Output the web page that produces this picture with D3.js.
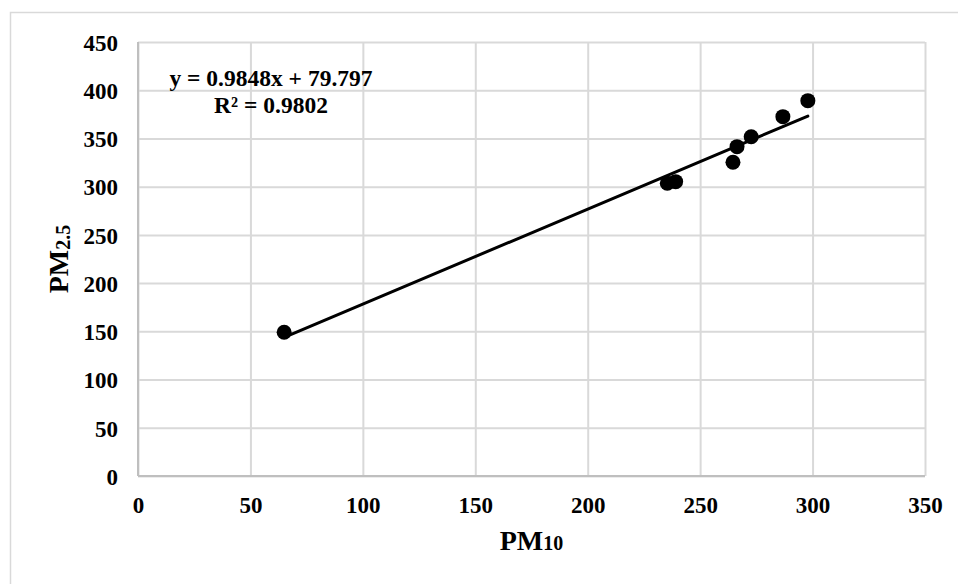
<!DOCTYPE html>
<html>
<head>
<meta charset="utf-8">
<script src="https://cdn.jsdelivr.net/npm/d3@7"></script>
<style>
  html, body { margin: 0; padding: 0; background: #fff; }
  svg { display: block; }
  text { font-family: "Liberation Serif", "Times New Roman", serif; font-weight: bold; fill: #000; }
</style>
</head>
<body>
<svg id="chart" width="958" height="584"></svg>
<script>
// PM10 vs PM2.5 observations
const pm10 = [65.0, 235.4, 239.1, 264.6, 266.4, 272.7, 286.8, 297.9];
const pm25 = [149.0, 303.5, 305.2, 325.3, 341.5, 351.8, 372.6, 389.2];

// Linear trend reported on the chart
const slope = 0.9848;
const intercept = 79.797;
const rSquared = 0.9802;

// Axis ticks
const xTicks = [0, 50, 100, 150, 200, 250, 300, 350];
const yTicks = [0, 50, 100, 150, 200, 250, 300, 350, 400, 450];

const svg = d3.select("#chart");
const W = 958, H = 584;
const plot = { left: 138, top: 42, right: 925, bottom: 476 };

// Outer chart frame
svg.append("rect")
  .attr("x", 10.5).attr("y", 12.5)
  .attr("width", W + 20).attr("height", H + 20)
  .attr("fill", "#fff").attr("stroke", "#d9d9d9").attr("stroke-width", 1.5);

const x = d3.scaleLinear().domain([0, 350]).range([plot.left, plot.right]);
const y = d3.scaleLinear().domain([0, 450]).range([plot.bottom, plot.top]);

// Gridlines
svg.append("g")
  .attr("transform", `translate(0,${plot.bottom})`)
  .call(d3.axisBottom(x).tickValues(xTicks).tickSize(-(plot.bottom - plot.top)).tickFormat(""))
  .call(g => g.select(".domain").remove())
  .call(g => g.selectAll("line").attr("stroke", "#d9d9d9").attr("stroke-width", 2));

svg.append("g")
  .attr("transform", `translate(${plot.left},0)`)
  .call(d3.axisLeft(y).tickValues(yTicks).tickSize(-(plot.right - plot.left)).tickFormat(""))
  .call(g => g.select(".domain").remove())
  .call(g => g.selectAll("line").attr("stroke", "#d9d9d9").attr("stroke-width", 2));

// Axis lines
svg.append("line")
  .attr("x1", plot.left).attr("x2", plot.right)
  .attr("y1", plot.bottom).attr("y2", plot.bottom)
  .attr("stroke", "#bfbfbf").attr("stroke-width", 2);
svg.append("line")
  .attr("x1", plot.left).attr("x2", plot.left)
  .attr("y1", plot.top).attr("y2", plot.bottom)
  .attr("stroke", "#bfbfbf").attr("stroke-width", 2);

// Tick labels
const xAxis = svg.append("g")
  .attr("transform", `translate(0,${plot.bottom})`)
  .call(d3.axisBottom(x).tickValues(xTicks).tickSize(0).tickPadding(37).tickFormat(d3.format("d")));
xAxis.select(".domain").remove();
xAxis.selectAll("text").attr("font-size", 23).attr("font-family", "Liberation Serif").attr("font-weight", "bold").attr("dy", 0).attr("fill", "#000");

const yAxis = svg.append("g")
  .attr("transform", `translate(${plot.left},0)`)
  .call(d3.axisLeft(y).tickValues(yTicks).tickSize(0).tickPadding(20).tickFormat(d3.format("d")));
yAxis.select(".domain").remove();
yAxis.selectAll("text").attr("font-size", 23).attr("font-family", "Liberation Serif").attr("font-weight", "bold").attr("dy", "0.36em").attr("fill", "#000");

// Trendline across the observed PM10 range
const xMin = d3.min(pm10), xMax = d3.max(pm10);
svg.append("line")
  .attr("x1", x(xMin)).attr("y1", y(slope * xMin + intercept))
  .attr("x2", x(xMax)).attr("y2", y(slope * xMax + intercept))
  .attr("stroke", "#000").attr("stroke-width", 3).attr("stroke-linecap", "round");

// Observations
svg.append("g").selectAll("circle")
  .data(pm10.map((v, i) => [v, pm25[i]]))
  .join("circle")
  .attr("cx", d => x(d[0])).attr("cy", d => y(d[1]))
  .attr("r", 7.5).attr("fill", "#000");

// Trendline equation
const eq = svg.append("text").attr("text-anchor", "middle").attr("font-size", 23.5);
eq.append("tspan").attr("x", 271).attr("y", 86)
  .text(`y = ${slope}x + ${intercept}`);
eq.append("tspan").attr("x", 271).attr("y", 113)
  .text(`R² = ${rSquared}`);

// Axis titles
const xt = svg.append("text")
  .attr("x", (plot.left + plot.right) / 2).attr("y", 550)
  .attr("text-anchor", "middle").attr("font-size", 28);
xt.append("tspan").text("PM");
xt.append("tspan").attr("font-size", 20).text("10");

const yt = svg.append("text")
  .attr("transform", `translate(68,${(plot.top + plot.bottom) / 2}) rotate(-90)`)
  .attr("text-anchor", "middle").attr("font-size", 28);
yt.append("tspan").text("PM");
yt.append("tspan").attr("font-size", 20).attr("dy", 2).text("2.5");
</script>
</body>
</html>
